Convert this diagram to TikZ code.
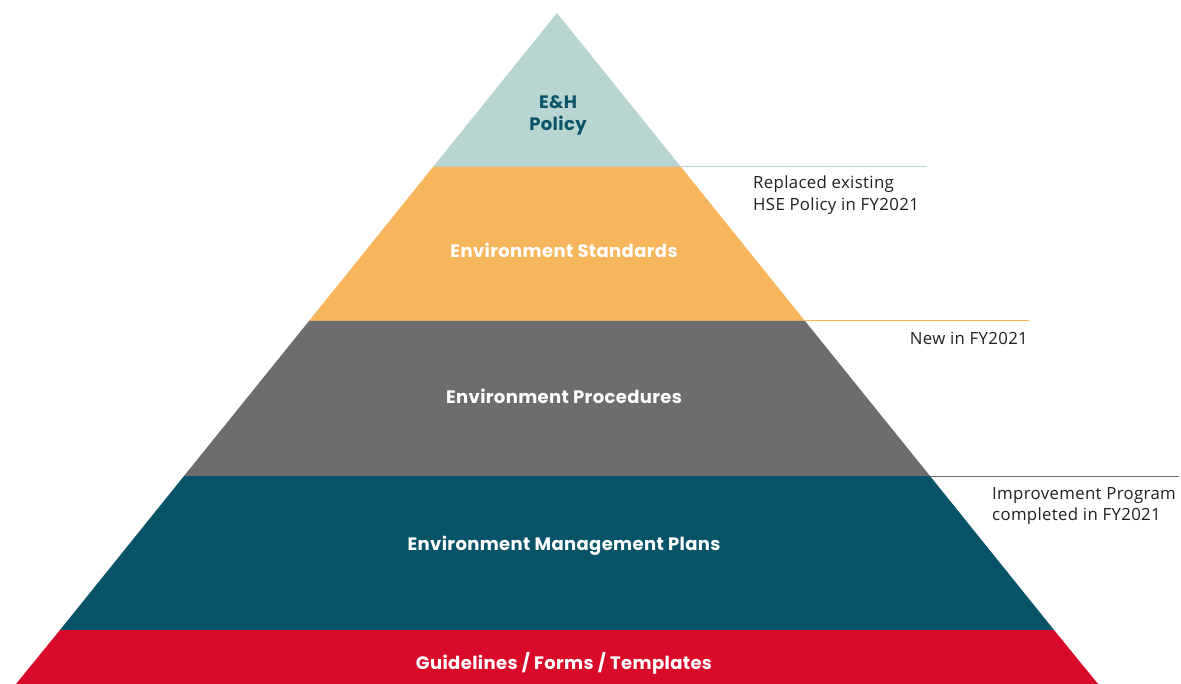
\documentclass[tikz,border=0pt]{standalone}
\usepackage{fontspec}
\setmainfont{Poppins}
\newfontfamily\notefont{Open Sans}
\definecolor{cTop}{HTML}{B8D5D2}
\definecolor{cOrange}{HTML}{F7B55C}
\definecolor{cGray}{HTML}{6E6D6D}
\definecolor{cTeal}{HTML}{075367}
\definecolor{cRed}{HTML}{D90A29}
\definecolor{cText}{HTML}{0B5468}
\definecolor{cNote}{HTML}{231F20}
\tikzset{
  bandlabel/.style={font=\fontsize{18}{22}\selectfont\bfseries\addfontfeatures{LetterSpace=2}, text=white, inner sep=0pt},
  note/.style={font=\notefont\fontsize{16.8}{21.5}\selectfont\addfontfeatures{LetterSpace=2}, text=cNote, inner sep=0pt, align=left},
  leader/.style={line width=1pt},
}
\begin{document}
\begin{tikzpicture}[x=1pt,y=-1pt]
\useasboundingbox (0,0) rectangle (1181,684);
% pyramid bands
\fill[cTop]    (557,13) -- (681,167) -- (433,167) -- cycle;
\fill[cOrange] (433,167) -- (681,167) -- (805,321) -- (309,321) -- cycle;
\fill[cGray]   (309,321) -- (805,321) -- (930,476) -- (184,476) -- cycle;
\fill[cTeal]   (184,476) -- (930,476) -- (1054,630) -- (60,630) -- cycle;
\fill[cRed]    (60,630) -- (1054,630) -- (1098,684) -- (16,684) -- cycle;
% labels
\node[bandlabel, text=cText, align=center] (l1) at (558,115) {E\&H\\Policy};
\node[bandlabel] (l2) at (564,250) {Environment Standards};
\node[bandlabel] (l3) at (564,396) {Environment Procedures};
\node[bandlabel] (l4) at (564,546) {Environment Management Plans};
\node[bandlabel] (l5) at (564,663) {Guidelines / Forms / Templates};
% leader lines
\coordinate (a1) at (681,167); \coordinate (b1) at (927,167);
\coordinate (a2) at (805,321); \coordinate (b2) at (1029,321);
\coordinate (a3) at (930,476); \coordinate (b3) at (1179,476);
\draw[leader, cTop] (a1) -- (b1);
\draw[leader, cOrange] (a2) -- (b2);
\draw[leader, cGray] (a3) -- (b3);
% notes
\node[note, anchor=west] (n1) at (753,195) {Replaced existing\\HSE Policy in FY2021};
\node[note, anchor=east] (n2) at (1028,338) {New in FY2021};
\node[note, anchor=west] (n3) at (992,506) {Improvement Program\\completed in FY2021};
\end{tikzpicture}
\end{document}
